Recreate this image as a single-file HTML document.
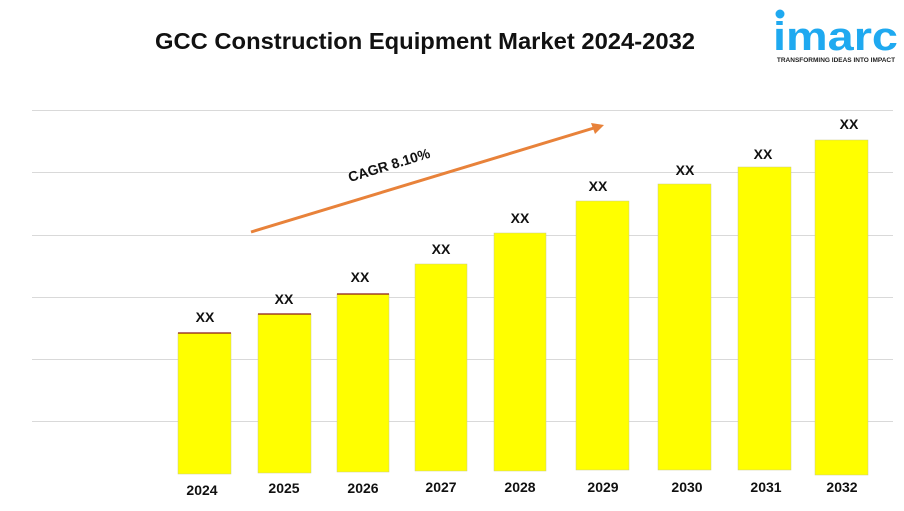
<!DOCTYPE html>
<html><head><meta charset="utf-8"><style>
body{margin:0;background:#fff;width:904px;height:506px;overflow:hidden;font-family:"Liberation Sans",sans-serif}
</style></head><body>
<svg width="904" height="506" xmlns="http://www.w3.org/2000/svg" font-family="Liberation Sans, sans-serif">
<text x="155" y="49" textLength="540" lengthAdjust="spacingAndGlyphs" font-size="23" font-weight="bold" fill="#111">GCC Construction Equipment Market 2024-2032</text>
<circle cx="780" cy="14" r="4.5" fill="#1fa9f0"/>
<text x="773" y="50" textLength="125" lengthAdjust="spacingAndGlyphs" font-size="40" font-weight="bold" fill="#1fa9f0">imarc</text>
<text x="836" y="62" text-anchor="middle" font-size="6.5" font-weight="bold" fill="#222">TRANSFORMING IDEAS INTO IMPACT</text>
<g stroke="#d9d9d9" stroke-width="1">
<line x1="32" y1="110.5" x2="893" y2="110.5"/><line x1="32" y1="172.5" x2="893" y2="172.5"/>
<line x1="32" y1="235.5" x2="893" y2="235.5"/><line x1="32" y1="297.5" x2="893" y2="297.5"/>
<line x1="32" y1="359.5" x2="893" y2="359.5"/><line x1="32" y1="421.5" x2="893" y2="421.5"/>
</g>
<g fill="#ffff00" stroke="#c9c98a" stroke-width="0.5">
<rect x="178" y="333" width="53" height="141"/>
<rect x="258" y="314" width="53" height="159"/>
<rect x="337" y="294" width="52" height="178"/>
<rect x="415" y="264" width="52" height="207"/>
<rect x="494" y="233" width="52" height="238"/>
<rect x="576" y="201" width="53" height="269"/>
<rect x="658" y="184" width="53" height="286"/>
<rect x="738" y="167" width="53" height="303"/>
<rect x="815" y="140" width="53" height="335"/>
</g>
<g stroke="#8b1a1a" stroke-width="1.2">
<line x1="178" y1="333" x2="231" y2="333"/><line x1="258" y1="314" x2="311" y2="314"/><line x1="337" y1="294" x2="389" y2="294"/>
</g>
<g font-size="14" font-weight="bold" fill="#111" text-anchor="middle">
<text x="205" y="322">XX</text><text x="284" y="304">XX</text><text x="360" y="282">XX</text>
<text x="441" y="254">XX</text><text x="520" y="223">XX</text><text x="598" y="191">XX</text>
<text x="685" y="175">XX</text><text x="763" y="159">XX</text><text x="849" y="129">XX</text>
<text x="202" y="495">2024</text><text x="284" y="493">2025</text><text x="363" y="493">2026</text>
<text x="441" y="492">2027</text><text x="520" y="492">2028</text><text x="603" y="492">2029</text>
<text x="687" y="492">2030</text><text x="766" y="492">2031</text><text x="842" y="492">2032</text>
</g>
<line x1="251" y1="232" x2="594" y2="128" stroke="#e8823a" stroke-width="3"/>
<polygon points="604,125 591,123 595,134" fill="#e8823a"/>
<text x="389" y="170" text-anchor="middle" font-size="14" font-weight="bold" fill="#111" transform="rotate(-17 389 165)">CAGR 8.10%</text>
</svg>
</body></html>
